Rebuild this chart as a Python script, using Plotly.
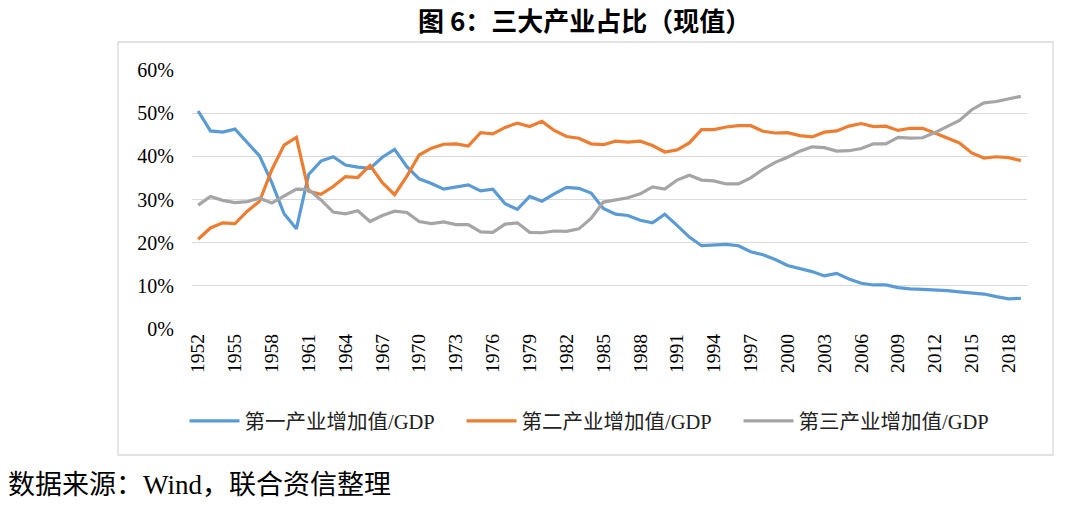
import plotly.graph_objects as go

years = list(range(1952, 2020))

primary = [50.5, 45.9, 45.6, 46.3, 43.2, 40.1, 33.9, 26.7, 23.2, 35.8,
           38.9, 39.9, 38.0, 37.5, 37.2, 39.8, 41.6, 37.6, 34.8, 33.7,
           32.4, 32.9, 33.4, 32.0, 32.4, 29.0, 27.7, 30.7, 29.6, 31.3,
           32.8, 32.6, 31.5, 27.9, 26.6, 26.3, 25.2, 24.6, 26.6, 24.0,
           21.3, 19.3, 19.5, 19.6, 19.3, 17.9, 17.2, 16.1, 14.7, 14.0,
           13.3, 12.3, 12.9, 11.6, 10.6, 10.2, 10.2, 9.6, 9.3, 9.2,
           9.1, 8.9, 8.6, 8.4, 8.1, 7.5, 7.0, 7.1]

secondary = [20.8, 23.4, 24.6, 24.4, 27.3, 29.6, 36.9, 42.6, 44.4, 31.9,
             31.2, 33.0, 35.3, 35.1, 37.9, 33.9, 31.1, 35.4, 40.3, 41.9,
             42.8, 42.9, 42.4, 45.5, 45.2, 46.7, 47.7, 46.9, 48.1, 46.0,
             44.6, 44.2, 42.9, 42.7, 43.5, 43.3, 43.5, 42.5, 41.0, 41.5,
             43.1, 46.2, 46.2, 46.8, 47.1, 47.1, 45.8, 45.4, 45.5, 44.8,
             44.5, 45.6, 45.9, 47.0, 47.6, 46.9, 47.0, 46.0, 46.5, 46.5,
             45.4, 44.2, 43.1, 40.8, 39.6, 39.9, 39.7, 39.0]

tertiary = [28.7, 30.7, 29.8, 29.3, 29.5, 30.3, 29.2, 30.7, 32.4, 32.3,
            29.9, 27.1, 26.7, 27.4, 24.9, 26.3, 27.3, 27.0, 24.9, 24.4,
            24.8, 24.2, 24.2, 22.5, 22.4, 24.3, 24.6, 22.4, 22.3, 22.7,
            22.6, 23.2, 25.6, 29.4, 29.9, 30.4, 31.3, 32.9, 32.4, 34.5,
            35.6, 34.5, 34.3, 33.6, 33.6, 35.0, 37.0, 38.6, 39.8, 41.2,
            42.2, 42.0, 41.2, 41.3, 41.8, 42.9, 42.9, 44.4, 44.2, 44.3,
            45.5, 46.9, 48.3, 50.8, 52.4, 52.7, 53.3, 53.9]

series_names = ["第一产业增加值/GDP", "第二产业增加值/GDP", "第三产业增加值/GDP"]
colors = ["#5B9BD5", "#ED7D31", "#A5A5A5"]

x_ticks = list(range(1952, 2020, 3))
y_ticks = [0, 10, 20, 30, 40, 50, 60]
y_labels = [f"{v}%" for v in y_ticks]

title_text = "图 6：三大产业占比（现值）"
source_text = "数据来源：Wind，联合资信整理"

W, H = 1080, 505
L, R, T, B = 192, 1027, 70, 329  # plot area in px

def px_x(p):
    return (p - L) / (R - L)

def px_y(p):
    return (B - p) / (B - T)

serif = "Liberation Serif, Noto Sans CJK SC"

fig = go.Figure()
for name, vals, c in zip(series_names, [primary, secondary, tertiary], colors):
    fig.add_trace(go.Scatter(x=years, y=vals, mode="lines", name=name,
                             line=dict(color=c, width=3.2)))

fig.update_layout(
    width=W, height=H,
    margin=dict(l=L, r=W - R, t=T, b=H - B, pad=0),
    paper_bgcolor="white", plot_bgcolor="white",
    showlegend=True,
    legend=dict(orientation="h", x=px_x(600), xanchor="center",
                y=px_y(421), yanchor="middle",
                font=dict(family=serif, size=20.5, color="#222"),
                entrywidth=212, entrywidthmode="pixels",
                itemwidth=50, tracegroupgap=0),
    font=dict(family=serif, color="#000"),
)
fig.update_xaxes(range=[1951.5, 2019.5], tickmode="array", tickvals=x_ticks,
                 ticktext=[str(v) for v in x_ticks], tickangle=-90,
                 showgrid=False, zeroline=False, showline=False,
                 ticks="", tickfont=dict(family=serif, size=19.5, color="#000"))
fig.update_yaxes(range=[0, 60], tickmode="array", tickvals=y_ticks,
                 ticktext=y_labels, showgrid=True, gridcolor="#D9D9D9",
                 gridwidth=1.3, zeroline=False, showline=False, ticks="",
                 ticklabelstandoff=17,
                 tickfont=dict(family=serif, size=20, color="#000"))

# outer chart border
fig.add_shape(type="rect", xref="paper", yref="paper",
              x0=px_x(118), x1=px_x(1053), y0=px_y(455), y1=px_y(42),
              line=dict(color="#D9D9D9", width=1.3), fillcolor="rgba(0,0,0,0)",
              layer="below")

fig.add_annotation(text=title_text, xref="paper", yref="paper",
                   x=px_x(584), y=px_y(20), xanchor="center", yanchor="middle",
                   showarrow=False,
                   font=dict(family="Noto Sans CJK SC", size=26, color="#000", weight="bold"))
fig.add_annotation(text=source_text, xref="paper", yref="paper",
                   x=px_x(6), y=px_y(485), xanchor="left", yanchor="middle",
                   showarrow=False,
                   font=dict(family=serif, size=27, color="#000"))

fig.write_html("out.html",
               config={"displayModeBar": False},
               post_script="document.body.style.margin='0';document.body.style.overflow='hidden';")
